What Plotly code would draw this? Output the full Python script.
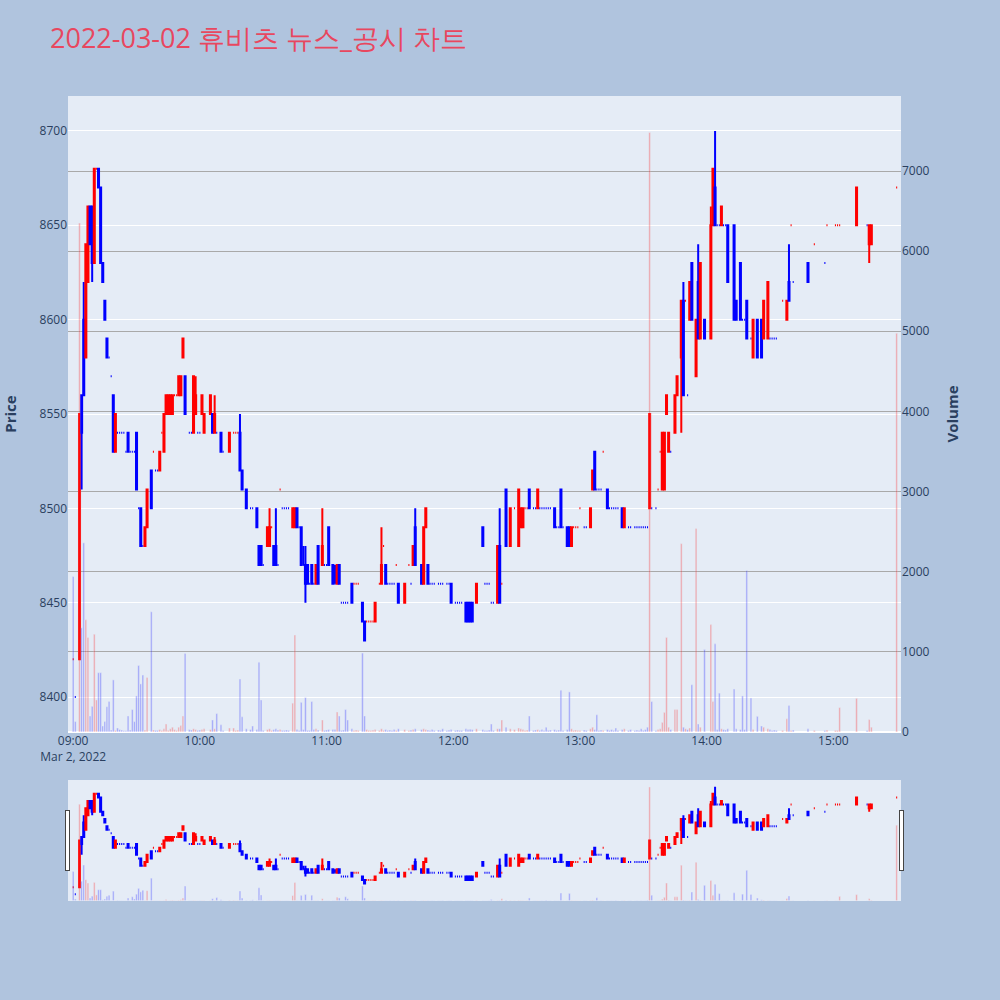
import pandas as pd
import plotly.graph_objects as go

SESSION_START = "2022-03-02 09:00:00"
TITLE = "2022-03-02 휴비츠 뉴스_공시 차트"

# minute offsets from 09:00 of candles that have a price range
bar_min = [3, 4, 5, 6, 7, 8, 9, 10, 12, 13,
           14, 15, 16, 19, 20, 26, 30, 32, 34, 35,
           37, 41, 43, 44, 45, 46, 47, 50, 51, 52,
           53, 57, 58, 61, 62, 65, 66, 67, 70, 74,
           79, 80, 82, 87, 88, 89, 92, 93, 95, 96,
           104, 105, 106, 108, 109, 110, 111, 113, 115, 116,
           118, 121, 123, 124, 125, 126, 132, 137, 138, 143,
           146, 148, 154, 157, 161, 162, 165, 166, 167, 168,
           179, 186, 187, 188, 189, 191, 194, 201, 202, 205,
           207, 211, 212, 213, 216, 220, 228, 231, 234, 235,
           236, 245, 246, 247, 253, 260, 261, 273, 279, 280,
           281, 282, 285, 286, 288, 289, 292, 293, 295, 296,
           297, 299, 302, 303, 304, 307, 310, 313, 314, 316,
           319, 322, 324, 326, 327, 329, 338, 339, 348, 371,
           377, 378]
bar_open = [8420, 8560, 8600, 8580, 8620, 8660, 8660, 8630, 8680, 8670,
            8630, 8610, 8590, 8560, 8530, 8540, 8540, 8500, 8480, 8490,
            8520, 8520, 8530, 8550, 8550, 8550, 8550, 8560, 8560, 8580,
            8570, 8540, 8550, 8550, 8540, 8550, 8550, 8540, 8540, 8530,
            8540, 8520, 8510, 8500, 8480, 8480, 8480, 8480, 8480, 8480,
            8490, 8490, 8500, 8490, 8470, 8470, 8470, 8470, 8460, 8480,
            8470, 8490, 8470, 8460, 8460, 8470, 8460, 8450, 8440, 8440,
            8460, 8470, 8460, 8450, 8470, 8490, 8470, 8460, 8490, 8470,
            8460, 8450, 8450, 8450, 8450, 8450, 8490, 8450, 8480, 8510,
            8480, 8480, 8490, 8490, 8510, 8500, 8500, 8510, 8490, 8490,
            8480, 8490, 8510, 8530, 8510, 8500, 8490, 8500, 8510, 8510,
            8550, 8530, 8540, 8560, 8580, 8610, 8600, 8630, 8570, 8620,
            8590, 8600, 8590, 8650, 8670, 8650, 8650, 8650, 8610, 8630,
            8610, 8580, 8600, 8600, 8590, 8590, 8600, 8620, 8630, 8650,
            8640, 8640]
bar_high = [8550, 8560, 8620, 8640, 8660, 8660, 8660, 8680, 8680, 8670,
            8630, 8610, 8590, 8560, 8550, 8540, 8540, 8500, 8490, 8510,
            8520, 8530, 8550, 8560, 8560, 8560, 8560, 8570, 8570, 8590,
            8570, 8570, 8570, 8560, 8550, 8560, 8550, 8560, 8540, 8540,
            8550, 8520, 8510, 8500, 8480, 8480, 8490, 8500, 8480, 8500,
            8500, 8500, 8500, 8490, 8480, 8480, 8470, 8470, 8470, 8480,
            8500, 8490, 8470, 8470, 8470, 8470, 8460, 8450, 8440, 8450,
            8490, 8470, 8460, 8460, 8480, 8500, 8470, 8490, 8500, 8470,
            8460, 8450, 8450, 8450, 8450, 8460, 8490, 8480, 8500, 8510,
            8500, 8510, 8500, 8500, 8510, 8510, 8500, 8510, 8490, 8490,
            8490, 8500, 8520, 8530, 8510, 8500, 8500, 8550, 8540, 8540,
            8560, 8540, 8560, 8570, 8610, 8620, 8620, 8630, 8600, 8640,
            8630, 8600, 8660, 8680, 8700, 8660, 8650, 8650, 8610, 8630,
            8610, 8600, 8600, 8600, 8610, 8620, 8610, 8640, 8630, 8670,
            8650, 8650]
bar_low = [8420, 8510, 8560, 8580, 8620, 8640, 8620, 8630, 8670, 8630,
           8620, 8600, 8580, 8530, 8530, 8530, 8510, 8480, 8480, 8490,
           8500, 8520, 8530, 8550, 8550, 8550, 8550, 8560, 8560, 8580,
           8550, 8540, 8550, 8550, 8540, 8550, 8540, 8540, 8530, 8530,
           8520, 8510, 8500, 8490, 8470, 8470, 8480, 8480, 8470, 8470,
           8490, 8490, 8490, 8470, 8470, 8450, 8460, 8460, 8460, 8460,
           8470, 8470, 8460, 8460, 8460, 8460, 8450, 8440, 8430, 8440,
           8460, 8460, 8450, 8450, 8470, 8470, 8460, 8460, 8490, 8460,
           8450, 8440, 8440, 8440, 8440, 8450, 8480, 8450, 8450, 8480,
           8480, 8480, 8490, 8490, 8500, 8500, 8490, 8490, 8480, 8480,
           8480, 8490, 8510, 8510, 8500, 8490, 8490, 8500, 8510, 8510,
           8550, 8530, 8540, 8560, 8540, 8560, 8600, 8600, 8570, 8590,
           8590, 8590, 8590, 8650, 8650, 8650, 8620, 8600, 8600, 8600,
           8590, 8580, 8580, 8580, 8590, 8590, 8600, 8610, 8620, 8650,
           8630, 8640]
bar_close = [8550, 8540, 8560, 8640, 8660, 8640, 8630, 8680, 8670, 8630,
             8620, 8600, 8580, 8530, 8550, 8530, 8510, 8480, 8490, 8510,
             8500, 8530, 8550, 8560, 8560, 8560, 8560, 8570, 8570, 8590,
             8550, 8570, 8560, 8560, 8550, 8560, 8540, 8550, 8530, 8540,
             8520, 8510, 8500, 8490, 8470, 8470, 8490, 8490, 8470, 8470,
             8500, 8500, 8490, 8470, 8470, 8460, 8460, 8460, 8470, 8460,
             8480, 8470, 8460, 8460, 8470, 8460, 8450, 8440, 8430, 8450,
             8470, 8460, 8450, 8460, 8480, 8470, 8460, 8490, 8500, 8460,
             8450, 8440, 8440, 8440, 8440, 8460, 8480, 8480, 8450, 8480,
             8500, 8510, 8500, 8500, 8500, 8510, 8490, 8490, 8480, 8480,
             8490, 8500, 8520, 8510, 8500, 8490, 8500, 8550, 8540, 8540,
             8560, 8540, 8560, 8570, 8610, 8560, 8620, 8600, 8600, 8590,
             8630, 8590, 8650, 8680, 8650, 8660, 8620, 8600, 8600, 8600,
             8590, 8600, 8580, 8580, 8610, 8620, 8610, 8610, 8620, 8670,
             8650, 8650]
bar_vol = [6350, 1300, 2360, 1400, 1180, 200, 320, 1220, 740, 740,
           75, 130, 316, 650, 20, 200, 450, 600, 25, 680,
           1500, 30, 40, 100, 20, 40, 60, 60, 80, 200,
           980, 40, 30, 30, 40, 30, 150, 40, 90, 50,
           660, 190, 40, 30, 870, 400, 30, 40, 30, 40,
           360, 1210, 30, 370, 30, 430, 20, 380, 40, 25,
           150, 30, 30, 30, 250, 200, 40, 985, 200, 30,
           40, 30, 40, 30, 30, 40, 30, 40, 30, 25,
           30, 40, 30, 35, 30, 40, 30, 40, 40, 60,
           40, 50, 40, 30, 200, 30, 30, 520, 30, 500,
           40, 40, 60, 30, 30, 30, 40, 7480, 120, 245,
           1180, 60, 280, 280, 2350, 60, 50, 590, 2540, 100,
           60, 1030, 1340, 380, 1100, 40, 40, 535, 40, 30,
           2015, 30, 195, 75, 60, 40, 165, 330, 40, 420,
           155, 60]

# minutes that traded at a single price
flat_min = [0, 1, 11, 17, 18, 21, 22, 23, 24, 25,
            27, 28, 29, 31, 33, 38, 39, 40, 42, 48,
            49, 55, 56, 59, 60, 68, 71, 76, 77, 78,
            84, 85, 90, 94, 97, 98, 99, 100, 101, 102,
            107, 112, 114, 119, 120, 127, 128, 129, 130, 133,
            134, 135, 139, 140, 141, 142, 145, 147, 149, 150,
            151, 152, 153, 159, 160, 169, 170, 171, 173, 174,
            175, 177, 178, 181, 182, 183, 184, 195, 196, 197,
            198, 199, 203, 209, 214, 215, 218, 219, 221, 222,
            223, 224, 225, 226, 229, 230, 232, 237, 238, 239,
            240, 242, 243, 248, 249, 250, 251, 254, 255, 256,
            257, 258, 263, 264, 266, 267, 268, 269, 270, 271,
            272, 274, 276, 277, 278, 283, 290, 291, 305, 306,
            308, 309, 317, 318, 321, 330, 331, 332, 333, 336,
            340, 341, 351, 356, 357, 361, 362, 363, 376, 390]
flat_price = [8420, 8400, 8680, 8580, 8570, 8540, 8540, 8540, 8540, 8530,
              8530, 8530, 8530, 8500, 8480, 8530, 8520, 8520, 8540, 8560,
              8560, 8540, 8540, 8540, 8540, 8540, 8530, 8540, 8540, 8540,
              8500, 8500, 8470, 8490, 8470, 8510, 8500, 8500, 8500, 8500,
              8490, 8460, 8460, 8470, 8470, 8450, 8450, 8450, 8450, 8460,
              8460, 8460, 8440, 8440, 8440, 8440, 8460, 8480, 8460, 8460,
              8460, 8460, 8470, 8470, 8460, 8460, 8460, 8460, 8460, 8460,
              8460, 8460, 8460, 8450, 8450, 8450, 8450, 8460, 8460, 8460,
              8450, 8450, 8460, 8500, 8500, 8500, 8500, 8500, 8500, 8500,
              8500, 8500, 8500, 8500, 8490, 8490, 8490, 8490, 8490, 8490,
              8500, 8490, 8490, 8510, 8510, 8510, 8530, 8500, 8500, 8500,
              8500, 8500, 8490, 8490, 8490, 8490, 8490, 8490, 8490, 8490,
              8490, 8500, 8500, 8510, 8530, 8530, 8610, 8560, 8650, 8650,
              8650, 8650, 8600, 8600, 8590, 8590, 8590, 8590, 8590, 8610,
              8650, 8620, 8640, 8630, 8650, 8650, 8650, 8650, 8650, 8670]
flat_vol = [1940, 130, 400, 380, 25, 50, 30, 25, 15, 15,
            25, 280, 130, 830, 710, 25, 20, 20, 20, 30,
            20, 30, 25, 20, 25, 230, 20, 50, 20, 25,
            30, 75, 20, 20, 25, 30, 20, 20, 25, 20,
            20, 20, 30, 20, 25, 20, 25, 280, 150, 20,
            25, 20, 30, 20, 20, 25, 20, 20, 20, 25,
            20, 30, 20, 20, 25, 20, 30, 20, 25, 20,
            40, 20, 25, 20, 25, 20, 20, 20, 20, 25,
            100, 20, 150, 30, 20, 25, 20, 25, 20, 30,
            20, 60, 20, 25, 20, 25, 20, 20, 25, 20,
            20, 25, 20, 215, 20, 25, 20, 20, 30, 20,
            50, 20, 20, 30, 20, 25, 20, 40, 20, 30,
            60, 380, 20, 30, 40, 30, 40, 30, 30, 485,
            30, 25, 450, 30, 425, 30, 20, 25, 20, 20,
            20, 25, 20, 20, 25, 20, 20, 305, 20, 4975]

# ---- assemble minute table ----
rows = list(zip(bar_min, bar_open, bar_high, bar_low, bar_close, bar_vol))
rows += [(m, p, p, p, p, v) for m, p, v in zip(flat_min, flat_price, flat_vol)]
rows.sort(key=lambda r: r[0])
t0 = pd.Timestamp(SESSION_START)
x = [t0 + pd.Timedelta(minutes=r[0]) for r in rows]
o = [r[1] for r in rows]
h = [r[2] for r in rows]
l = [r[3] for r in rows]
c = [r[4] for r in rows]
v = [r[5] for r in rows]

# direction per minute (same rule plotly uses for candles)
vol_colors = []
up = False
prev_c = None
for oi, ci in zip(o, c):
    if ci > oi:
        up = True
    elif ci < oi:
        up = False
    elif prev_c is not None and ci != prev_c:
        up = ci > prev_c
    prev_c = ci
    vol_colors.append("red" if up else "blue")

fig = go.Figure()
fig.add_trace(
    go.Candlestick(
        x=x, open=o, high=h, low=l, close=c, name="Price", yaxis="y",
        increasing=dict(line=dict(color="red"), fillcolor="red"),
        decreasing=dict(line=dict(color="blue"), fillcolor="blue"),
    )
)
fig.add_trace(
    go.Bar(x=x, y=v, name="Volume", marker_color=vol_colors, opacity=0.3,
           yaxis="y2")
)

axis_title_font = dict(size=15, weight="bold", color="#2a3f5f")
fig.update_layout(
    width=1000, height=1000,
    paper_bgcolor="lightsteelblue",
    plot_bgcolor="#e5ecf6",
    showlegend=False,
    margin=dict(l=68, r=99, t=96, b=100),
    title=dict(text=TITLE, font=dict(size=27, color="#e8475f")),
    xaxis=dict(
        range=["2022-03-02 08:57:33", "2022-03-02 15:32:03"],
        rangeslider=dict(visible=True, bgcolor="#e5ecf6"),
    ),
    yaxis=dict(title=dict(text="Price", font=axis_title_font, standoff=21),
               automargin=False, range=[8381.5, 8718.5]),
    yaxis2=dict(title=dict(text="Volume", font=axis_title_font, standoff=18),
                overlaying="y", side="right", range=[0, 7936],
                gridcolor="darkgray"),
)

fig.write_html("out.html", config={"displayModeBar": False},
               post_script="document.body.style.margin='0px';")
